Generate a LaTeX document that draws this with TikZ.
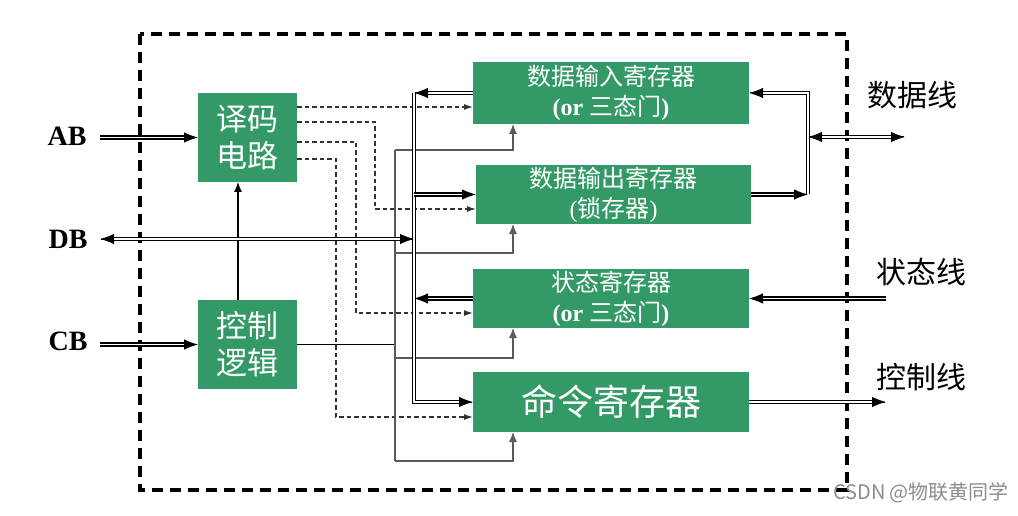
\documentclass[tikz,border=0pt]{standalone}
\usepackage{fontspec}
\setmainfont{Liberation Serif}
\newfontfamily\cjk{Noto Sans CJK SC}
\usetikzlibrary{arrows.meta,calc}
\definecolor{boxgreen}{RGB}{51,153,102}
\newcommand\tipat[2]{\draw[-{Latex[length=14pt,width=10.5pt]}, line width=1pt] ($(#2)!1pt!(#1)$) -- (#2);}
\begin{document}
\begin{tikzpicture}[x=1pt,y=-1pt,
  box/.style={fill=boxgreen, inner sep=0pt, outer sep=0pt, text=white, align=center},
  dbl/.style={draw=black, line width=1.3pt, double=white, double distance=1.7pt},
  se/.style={shorten >=11pt},
  ss/.style={shorten <=11pt},
  stip/.tip={Latex[length=10pt,width=8pt]},
  dtip/.tip={Latex[length=9pt,width=6pt]},
  dsh/.style={draw=black!80, line width=1.2pt, dash pattern=on 4.5pt off 3pt},
  cl/.style={draw=black!65, line width=1.2pt},
  lbl/.style={font=\bfseries\fontsize{28}{30}\selectfont, inner sep=0pt},
  clbl/.style={font=\cjk\fontsize{30}{32}\selectfont, inner sep=0pt}
]
\useasboundingbox (0,0) rectangle (1018,516);

% outer dashed border
\draw[line width=3.2pt, dash pattern=on 11pt off 7pt] (140,34) rectangle (847,490);

% boxes
\node[box, minimum width=99pt, minimum height=89pt, font=\cjk\fontsize{31}{37}\selectfont] (dec) at (247.5,137.5) {译码\\电路};
\node[box, minimum width=99pt, minimum height=89pt, font=\cjk\fontsize{31}{37}\selectfont] (ctl) at (247.5,344.5) {控制\\逻辑};
\node[box, minimum width=276pt, minimum height=62pt, font=\fontsize{24}{30}\selectfont] (din) at (611,93) {{\cjk 数据输入寄存器}\\{\bfseries (or }{\cjk 三态门}{\bfseries )}};
\node[box, minimum width=275pt, minimum height=59pt, font=\fontsize{24}{30}\selectfont] (dout) at (613.5,194.5) {{\cjk 数据输出寄存器}\\({\cjk 锁存器})};
\node[box, minimum width=276pt, minimum height=59pt, font=\fontsize{24}{30}\selectfont] (st) at (611,298.5) {{\cjk 状态寄存器}\\{\bfseries (or }{\cjk 三态门}{\bfseries )}};
\node[box, minimum width=276pt, minimum height=60pt, font=\cjk\fontsize{36}{40}\selectfont] (cmd) at (611,402) {命令寄存器};

% labels
\node[lbl] (AB) at (67,136) {AB};
\node[lbl] (DB) at (68,239) {DB};
\node[lbl] (CB) at (68,341) {CB};
\node[clbl] (sjx) at (912,95) {数据线};
\node[clbl] (ztx) at (921,272) {状态线};
\node[clbl] (kzx) at (921,377) {控制线};
\node[font=\cjk\fontsize{20}{22}\selectfont, text=black!45, inner sep=0pt] (wm) at (921,493) {CSDN @物联黄同学};

% helper coordinates
\coordinate (xL) at (100,0);
\coordinate (xbus) at (414,0);
\coordinate (xd1) at (375,0);
\coordinate (xd2) at (356,0);
\coordinate (xd3) at (336,0);
\coordinate (xc) at (395,0);
\coordinate (xR) at (808,0);
\coordinate (xRd) at (905,0);
\coordinate (xRe) at (886,0);
\coordinate (rdb) at (0,239);
\coordinate (rdl) at (0,137);
\coordinate (r2) at (0,209);
\coordinate (r3) at (0,313);
\coordinate (r4) at (0,417);
\coordinate (c1) at (0,150);
\coordinate (c2) at (0,253);
\coordinate (c3) at (0,358);
\coordinate (c4) at (0,461);
\coordinate (o1) at ([yshift=-14pt]dec.north east);
\coordinate (o2) at ([yshift=-29pt]dec.north east);
\coordinate (o3) at ([yshift=-49pt]dec.north east);
\coordinate (o4) at ([yshift=-66pt]dec.north east);

% bus junction points
\coordinate (bTop) at (xbus |- din.west);
\coordinate (bBot) at (xbus |- cmd.west);
\coordinate (bOut) at (xbus |- dout.west);
\coordinate (bSt) at (xbus |- st.west);
\coordinate (bDB) at (xbus |- rdb);
\coordinate (lDB) at (xL |- rdb);
\coordinate (lAB) at (xL |- dec.west);
\coordinate (lCB) at (xL |- ctl.west);
\coordinate (rTop) at (xR |- din.east);
\coordinate (rBot) at (xR |- dout.east);
\coordinate (rDL) at (xR |- rdl);
\coordinate (eDL) at (xRd |- rdl);
\coordinate (eSt) at (xRe |- st.east);
\coordinate (eCmd) at (xRe |- cmd.east);

% dashed select lines
\draw[dsh,-{dtip}] (o1) -- (o1 -| din.west);
\draw[dsh,-{dtip}] (o2) -| (xd1 |- r2) -- (r2 -| dout.west);
\draw[dsh,-{dtip}] (o3) -| (xd2 |- r3) -- (r3 -| st.west);
\draw[dsh,-{dtip}] (o4) -| (xd3 |- r4) -- (r4 -| cmd.west);

% control lines
\draw[draw=black, line width=1.1pt] (ctl.east) -- (ctl.east -| xc);
\draw[cl] (xc |- c1) -- (xc |- c4);
\draw[cl,-{stip}] (xc |- c1) -| ([xshift=40pt]din.south west);
\draw[cl,-{stip}] (xc |- c2) -| ([xshift=37pt]dout.south west);
\draw[cl,-{stip}] (xc |- c3) -| ([xshift=40pt]st.south west);
\draw[cl,-{stip}] (xc |- c4) -| ([xshift=40pt]cmd.south west);
\draw[draw=black, line width=1.2pt,-{stip}] ([xshift=-9.5pt]ctl.north) -- ([xshift=-9.5pt]dec.south);

% inner data bus
\draw[dbl,se] (bTop) -- (bBot) -- (cmd.west);   \tipat{bBot}{cmd.west}
\draw[dbl,se] (din.west) -- (bTop);             \tipat{din.west}{bTop}
\draw[dbl,se] (bOut) -- (dout.west);            \tipat{bOut}{dout.west}
\draw[dbl,se] (st.west) -- (bSt);               \tipat{st.west}{bSt}
\draw[dbl,se,ss] (lDB) -- (bDB);                \tipat{bDB}{lDB}\tipat{lDB}{bDB}

% left inputs
\draw[dbl,se] (lAB) -- (dec.west);              \tipat{lAB}{dec.west}
\draw[dbl,se] (lCB) -- (ctl.west);              \tipat{lCB}{ctl.west}

% right side
\draw[dbl,ss] (din.east) -- (rTop) -- (rBot);   \tipat{rTop}{din.east}
\draw[dbl,se] (dout.east) -- (rBot);            \tipat{dout.east}{rBot}
\draw[dbl,se,ss] (rDL) -- (eDL);                \tipat{eDL}{rDL}\tipat{rDL}{eDL}
\draw[dbl,se] (eSt) -- (st.east);               \tipat{eSt}{st.east}
\draw[dbl,se] (cmd.east) -- (eCmd);             \tipat{cmd.east}{eCmd}
\end{tikzpicture}
\end{document}
